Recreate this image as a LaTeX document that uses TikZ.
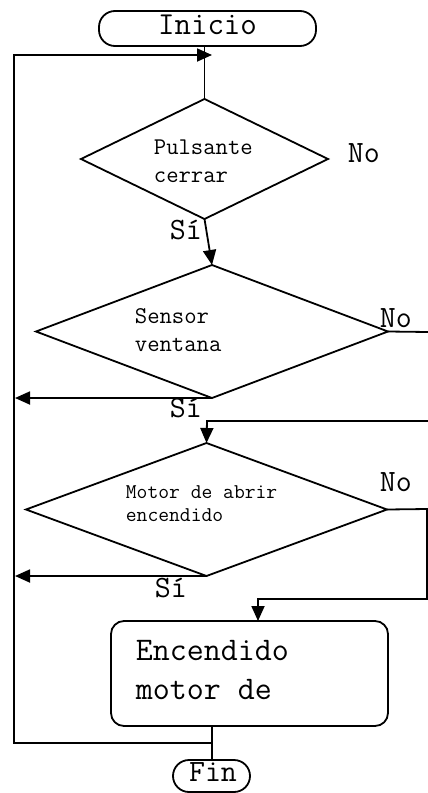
\documentclass[tikz,border=0pt]{standalone}
\usepackage{fontspec}
\usetikzlibrary{shapes.geometric,arrows.meta}
\begin{document}
\begin{tikzpicture}[x=1pt,y=-1pt,
  every path/.style={line width=1.8pt},
  term/.style={draw,rectangle,rounded corners=16pt,inner sep=0pt,outer sep=0pt},
  dec/.style={draw,diamond,inner sep=0pt,outer sep=0pt},
  procbox/.style={draw,rectangle,rounded corners=13pt,inner sep=0pt,outer sep=0pt,minimum width=277pt,minimum height=105pt},
  txt/.style={inner sep=0pt,anchor=base west,font=\ttfamily},
  arr/.style={-{Triangle[length=15pt,width=13pt]}},
  lbl/.style={txt,font=\ttfamily\fontsize{31}{34}\selectfont}
]
\useasboundingbox (0,0) rectangle (428,793);
\fill[white] (0,0) rectangle (428,793);

% nodes
\node[term,minimum width=217pt,minimum height=35pt] (inicio) at (207.5,28.5) {};
\node[inner sep=0pt,anchor=base,font=\ttfamily\fontsize{32}{34}\selectfont] (tinicio) at (207.5,34) {Inicio};

\node[dec,minimum width=247pt,minimum height=120pt] (d1) at (204.5,159) {};
\node[txt,font=\ttfamily\fontsize{24}{26}\selectfont] (t1a) at (153,154) {Pulsante};
\node[txt,font=\ttfamily\fontsize{24}{26}\selectfont] (t1b) at (153,182) {cerrar};
\node[lbl] (no1) at (347,162) {No};
\node[lbl] (si1) at (169,239) {Sí};

\node[dec,minimum width=352pt,minimum height=133pt] (d2) at (212,331.5) {};
\node[txt,font=\ttfamily\fontsize{24}{26}\selectfont] (t2a) at (134,323) {Sensor};
\node[txt,font=\ttfamily\fontsize{24}{26}\selectfont] (t2b) at (134,351) {ventana};
\node[lbl] (no2) at (379,327) {No};
\node[lbl] (si2) at (169,417) {Sí};

\node[dec,minimum width=361pt,minimum height=133pt] (d3) at (206.5,509.5) {};
\node[txt,font=\ttfamily\fontsize{21}{24}\selectfont] (t3a) at (125,498) {Motor de abrir};
\node[txt,font=\ttfamily\fontsize{21}{24}\selectfont] (t3b) at (125,521) {encendido};
\node[lbl] (no3) at (379,491) {No};
\node[lbl] (si3) at (154,597) {Sí};

\node[procbox] (box) at (249.5,673.5) {};
\node[txt,font=\ttfamily\fontsize{33}{35}\selectfont] (tba) at (135,660) {Encendido};
\node[txt,font=\ttfamily\fontsize{33}{35}\selectfont] (tbb) at (135,699) {motor de};

\node[term,minimum width=77pt,minimum height=32pt] (fin) at (211.5,776) {};
\node[inner sep=0pt,anchor=base,font=\ttfamily\fontsize{31}{34}\selectfont] (tfin) at (213,781) {Fin};

% coordinates
\coordinate (loopTL) at (14,55);
\coordinate (loopTip) at (212,55);
\coordinate (loopBL) at (14,743);
\coordinate (junc) at (212,743);
\coordinate (r2) at (428,332);
\coordinate (r2b) at (428,421);
\coordinate (t3) at (207,421);
\coordinate (si2end) at (15,398);
\coordinate (si3end) at (15,576);
\coordinate (r3) at (427,509);
\coordinate (r3b) at (427,599);
\coordinate (bx) at (258,599);
\coordinate (bxt) at (258,621);

% connectors
\draw (d1.north |- inicio.south) -- (d1.north);
\draw[arr] (junc) -- (loopBL) -- (loopTL) -- (loopTip);
\draw[arr] (d1.south) -- (d2.north);
\draw (d2.east) -- (r2);
\draw[arr] (r2b) -- (t3) -- (d3.north);
\draw[arr] (d2.south) -- (si2end);
\draw[arr] (d3.east) -- (r3) -- (r3b) -- (bx) -- (bxt);
\draw[arr] (d3.south) -- (si3end);
\draw (box.south -| junc) -- (fin.north -| junc);
\end{tikzpicture}
\end{document}
